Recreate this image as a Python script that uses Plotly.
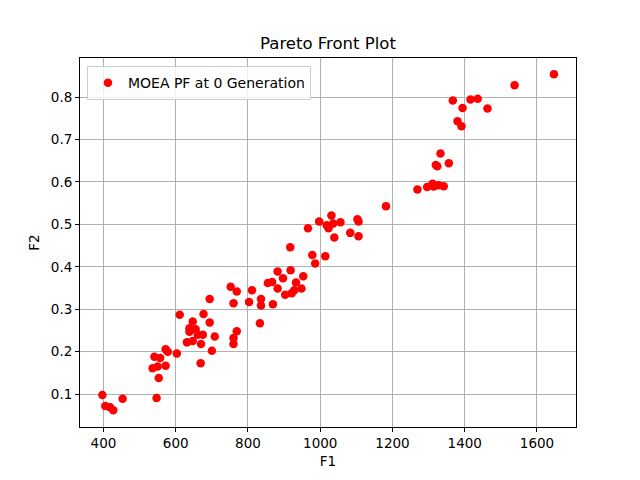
import plotly.graph_objects as go

f1 = [397, 405, 418, 427, 453, 547, 553, 536, 550, 572, 541, 557, 572, 578, 603,
      611, 669, 647, 638, 638, 655, 661, 675, 631, 647, 670, 677, 694, 708, 700,
      694, 752, 769, 760, 769, 760, 760, 803, 811, 833, 836, 836, 855, 867, 869,
      882, 882, 897, 903, 917, 918, 921, 928, 933, 948, 953, 966, 978, 986, 997,
      1014, 1018, 1023, 1031, 1036, 1039, 1056, 1083, 1103, 1106, 1106, 1182,
      1269, 1296, 1311, 1314, 1328, 1342, 1324, 1320, 1333, 1356, 1367, 1380,
      1391, 1394, 1416, 1436, 1463, 1538, 1647]
f2 = [0.098, 0.072, 0.069, 0.062, 0.089, 0.091, 0.138, 0.161, 0.165, 0.167, 0.188,
      0.185, 0.206, 0.200, 0.196, 0.287, 0.173, 0.271, 0.255, 0.247, 0.253, 0.240,
      0.240, 0.222, 0.225, 0.218, 0.289, 0.269, 0.236, 0.202, 0.324, 0.353, 0.342,
      0.314, 0.248, 0.232, 0.218, 0.317, 0.345, 0.267, 0.324, 0.309, 0.362, 0.364,
      0.312, 0.389, 0.349, 0.373, 0.334, 0.446, 0.392, 0.338, 0.345, 0.363, 0.349,
      0.378, 0.491, 0.428, 0.408, 0.507, 0.425, 0.498, 0.491, 0.521, 0.502, 0.469,
      0.505, 0.480, 0.512, 0.507, 0.472, 0.543, 0.582, 0.588, 0.596, 0.589, 0.592,
      0.590, 0.637, 0.640, 0.667, 0.644, 0.792, 0.743, 0.731, 0.774, 0.794, 0.796,
      0.773, 0.828, 0.854]

x_ticks = [400, 600, 800, 1000, 1200, 1400, 1600]
y_ticks = [0.1, 0.2, 0.3, 0.4, 0.5, 0.6, 0.7, 0.8]

fig = go.Figure()
fig.add_trace(go.Scatter(
    x=f1, y=f2, mode='markers', name='MOEA PF at 0 Generation',
    marker=dict(color='red', size=8.5, line=dict(width=0)),
))

axis_style = dict(
    showline=True, linecolor='black', linewidth=1, mirror=True,
    ticks='outside', ticklen=4, tickcolor='black',
    showgrid=True, gridcolor='#b0b0b0', gridwidth=1, zeroline=False,
    tickfont=dict(size=13.5, color='black'),
)

# page body has an 8px margin, so the margins are shifted to compensate
fig.update_layout(
    width=640, height=480,
    margin=dict(l=72, r=72, t=50, b=61, autoexpand=False),
    paper_bgcolor='white', plot_bgcolor='white',
    font=dict(family='DejaVu Sans', color='black'),
    title=dict(text='Pareto Front Plot', x=0.5, xanchor='center',
               y=0.927, yanchor='middle', font=dict(size=16.5)),
    xaxis=dict(axis_style, range=[335, 1708], tickvals=x_ticks,
               title=dict(text='F1', font=dict(size=13.5), standoff=6)),
    yaxis=dict(axis_style, range=[0.0226, 0.892], tickvals=y_ticks,
               tickformat='.1f',
               title=dict(text='F2', font=dict(size=13.5), standoff=8)),
    showlegend=True,
    legend=dict(x=0.014, y=0.978, xanchor='left', yanchor='top',
                bgcolor='rgba(255,255,255,0.8)', bordercolor='#cccccc',
                borderwidth=1, font=dict(size=14)),
)

fig.write_html("out.html")
